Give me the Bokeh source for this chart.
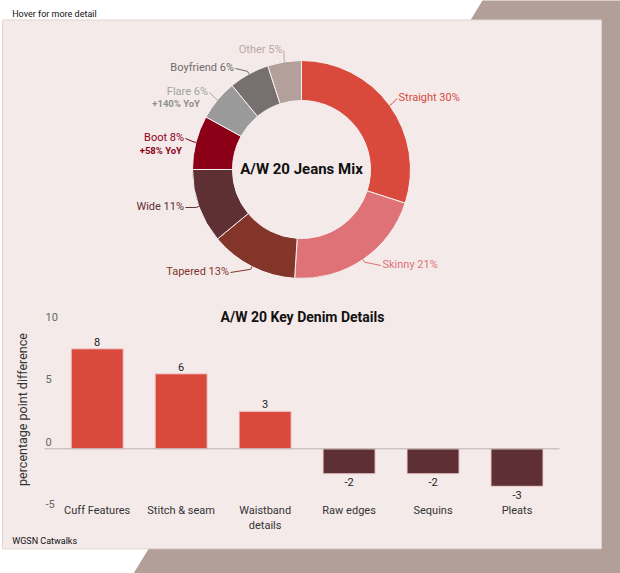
import numpy as np
from bokeh.plotting import figure
from bokeh.models import Range1d, ColumnDataSource
from bokeh.core.properties import value
from bokeh.embed import file_html
from bokeh.resources import INLINE

# ---------------- data ----------------
jean_types = ["Straight", "Skinny", "Tapered", "Wide", "Boot", "Flare", "Boyfriend", "Other"]
jean_shares = [30, 21, 13, 11, 8, 6, 6, 5]
jean_yoy = [None, None, None, None, 58, 140, None, None]

detail_names = ["Cuff Features", "Stitch & seam", "Waistband details", "Raw edges", "Sequins", "Pleats"]
detail_labels = ["Cuff Features", "Stitch & seam", "Waistband\ndetails", "Raw edges", "Sequins", "Pleats"]
detail_diff = [8, 6, 3, -2, -2, -3]
y_ticks = [-5, 0, 5, 10]

# ---------------- styles / layout ----------------
FONT = value("Roboto")
PINK = "#F4EAEA"
BROWN = "#B29F98"
POS_COL = "#D94A3D"
NEG_COL = "#5E3035"
slice_colors = ["#D94A3D", "#DE7276", "#83352A", "#5E2F33", "#8C0017", "#9A9A9A", "#76716F", "#B3A09A"]
label_colors = ["#D94A3D", "#DE7276", "#83352A", "#5E2F33", "#8C0017", "#A3A3A3", "#6E6A68", "#BBA7A1"]
# label anchor (x, y, align) in page pixels
label_anchor = [(398, 97, "left"), (382, 264, "left"), (228.5, 271, "right"), (183.5, 206, "right"),
                (183.5, 137, "right"), (207.5, 91, "right"), (233.5, 67, "right"), (282, 49, "right")]
sub_anchor = {4: (181.5, 150), 5: (199.5, 103)}
CX, CY, R_OUT, R_IN = 301, 169, 109, 69

W, H = 620, 573
p = figure(width=W, height=H, x_range=Range1d(0, W), y_range=Range1d(H, 0),
           x_axis_type=None, y_axis_type=None, toolbar_location=None, output_backend="svg",
           min_border=0, outline_line_color=None, background_fill_color="white",
           border_fill_color="white")
p.grid.visible = False

# background decoration
p.patch([482 + 0.609 * 20, 720, 720, 482 - 0.609 * 620], [-20, -20, 620, 620],
        fill_color=BROWN, line_color=None)
p.quad(left=[2], right=[601], top=[19.5], bottom=[548.3], fill_color=PINK,
       line_color="#E0D4D4", line_width=1)

p.text(x=[11.7], y=[13.5], text=["Hover for more detail"], text_font=FONT, text_font_size="9px",
       text_color="#111111", text_baseline="middle", text_align="left")
p.text(x=[11.7], y=[540], text=["WGSN Catwalks"], text_font=FONT, text_font_size="9px",
       text_color="#111111", text_baseline="middle", text_align="left")

# ---------------- donut ----------------
shares = np.array(jean_shares, dtype=float)
frac_end = np.cumsum(shares) / shares.sum()
frac_start = frac_end - shares / shares.sum()
start_ang = np.pi / 2 - 2 * np.pi * frac_start
end_ang = np.pi / 2 - 2 * np.pi * frac_end
donut_src = ColumnDataSource(dict(type=jean_types, share=jean_shares, start=start_ang, end=end_ang,
                                  color=slice_colors))
p.annular_wedge(x=CX, y=CY, inner_radius=R_IN, outer_radius=R_OUT, start_angle="start",
                end_angle="end", direction="clock", fill_color="color", line_color="#F7F0F0",
                line_width=1, source=donut_src)

mid = (frac_start + frac_end) * np.pi
xs, ys = [], []
for i in range(len(jean_types)):
    ex, ey = CX + R_OUT * np.sin(mid[i]), CY - R_OUT * np.cos(mid[i])
    ox, oy = CX + (R_OUT + 3) * np.sin(mid[i]), CY - (R_OUT + 3) * np.cos(mid[i])
    ax, ay, al = label_anchor[i]
    gap = -1.5 if al == "left" else 1.5
    xs.append([ex, ox, ax + gap])
    ys.append([ey, oy, ay + 1])
p.multi_line(xs=xs, ys=ys, line_color=label_colors, line_width=1)

for i, (t, s) in enumerate(zip(jean_types, jean_shares)):
    ax, ay, al = label_anchor[i]
    p.text(x=[ax], y=[ay], text=[f"{t} {s}%"], text_font=FONT, text_font_size="11px",
           text_color=label_colors[i], text_align=al, text_baseline="middle")
    if jean_yoy[i] is not None:
        sx, sy = sub_anchor[i]
        p.text(x=[sx], y=[sy], text=[f"+{jean_yoy[i]}% YoY"], text_font=FONT,
               text_font_size="9.5px", text_font_style="bold",
               text_color=("#8F8F8F" if i == 5 else label_colors[i]), text_align="right",
               text_baseline="middle")

p.text(x=[CX], y=[168], text=["A/W 20 Jeans Mix"], text_font=FONT, text_font_size="15px",
       text_font_style="bold", text_color="#111111", text_align="center", text_baseline="middle")

# ---------------- bar chart ----------------
# index axis: bar i centred at 96.7 + 83.96*i px ; value axis: 0 at 448.3 px, 12.5 px / unit
p.extra_x_ranges = {"idx": Range1d(-96.7 / 83.96, (W - 96.7) / 83.96)}
p.extra_y_ranges = {"val": Range1d(-(H - 448.3) / 12.5, 448.3 / 12.5)}

idx = list(range(len(detail_names)))
bar_src = ColumnDataSource(dict(idx=idx, name=detail_names, label=detail_labels, diff=detail_diff,
                                txt=[str(v) for v in detail_diff],
                                color=[POS_COL if v >= 0 else NEG_COL for v in detail_diff]))
p.vbar(x="idx", top="diff", bottom=0, width=0.62, fill_color="color", line_color="#EFCFCF",
       line_width=1, source=bar_src, x_range_name="idx", y_range_name="val")
p.segment(x0=[44], y0=[0], x1=[559], y1=[0], line_color="#BDB3B3", line_width=1,
          y_range_name="val")

pos_src = ColumnDataSource(dict(idx=[i for i, v in zip(idx, detail_diff) if v >= 0],
                                diff=[v for v in detail_diff if v >= 0],
                                txt=[str(v) for v in detail_diff if v >= 0]))
neg_src = ColumnDataSource(dict(idx=[i for i, v in zip(idx, detail_diff) if v < 0],
                                diff=[v for v in detail_diff if v < 0],
                                txt=[str(v) for v in detail_diff if v < 0]))
p.text(x="idx", y="diff", text="txt", source=pos_src, y_offset=-7, text_font=FONT,
       text_font_size="11px", text_color="#222222", text_align="center", text_baseline="middle",
       x_range_name="idx", y_range_name="val")
p.text(x="idx", y="diff", text="txt", source=neg_src, y_offset=8.5, text_font=FONT,
       text_font_size="11px", text_color="#222222", text_align="center", text_baseline="middle",
       x_range_name="idx", y_range_name="val")

p.text(x="idx", y=503.5, text="label", source=bar_src, text_font=FONT, text_font_size="11px",
       text_color="#333333", text_align="center", text_baseline="top", text_line_height=1.15,
       x_range_name="idx")

p.text(x=[45] * len(y_ticks), y=y_ticks, text=[str(t) for t in y_ticks], y_offset=-7,
       text_font=FONT, text_font_size="11px", text_color="#666666", text_align="left",
       text_baseline="middle", y_range_name="val")

p.text(x=[22], y=[409], text=["percentage point difference"], angle=np.pi / 2, text_font=FONT,
       text_font_size="12.5px", text_color="#333333", text_align="center", text_baseline="middle")

p.text(x=[302], y=[316], text=["A/W 20 Key Denim Details"], text_font=FONT, text_font_size="14px",
       text_font_style="bold", text_color="#111111", text_align="center", text_baseline="middle")

open("out.html", "w").write(file_html(p, INLINE))
